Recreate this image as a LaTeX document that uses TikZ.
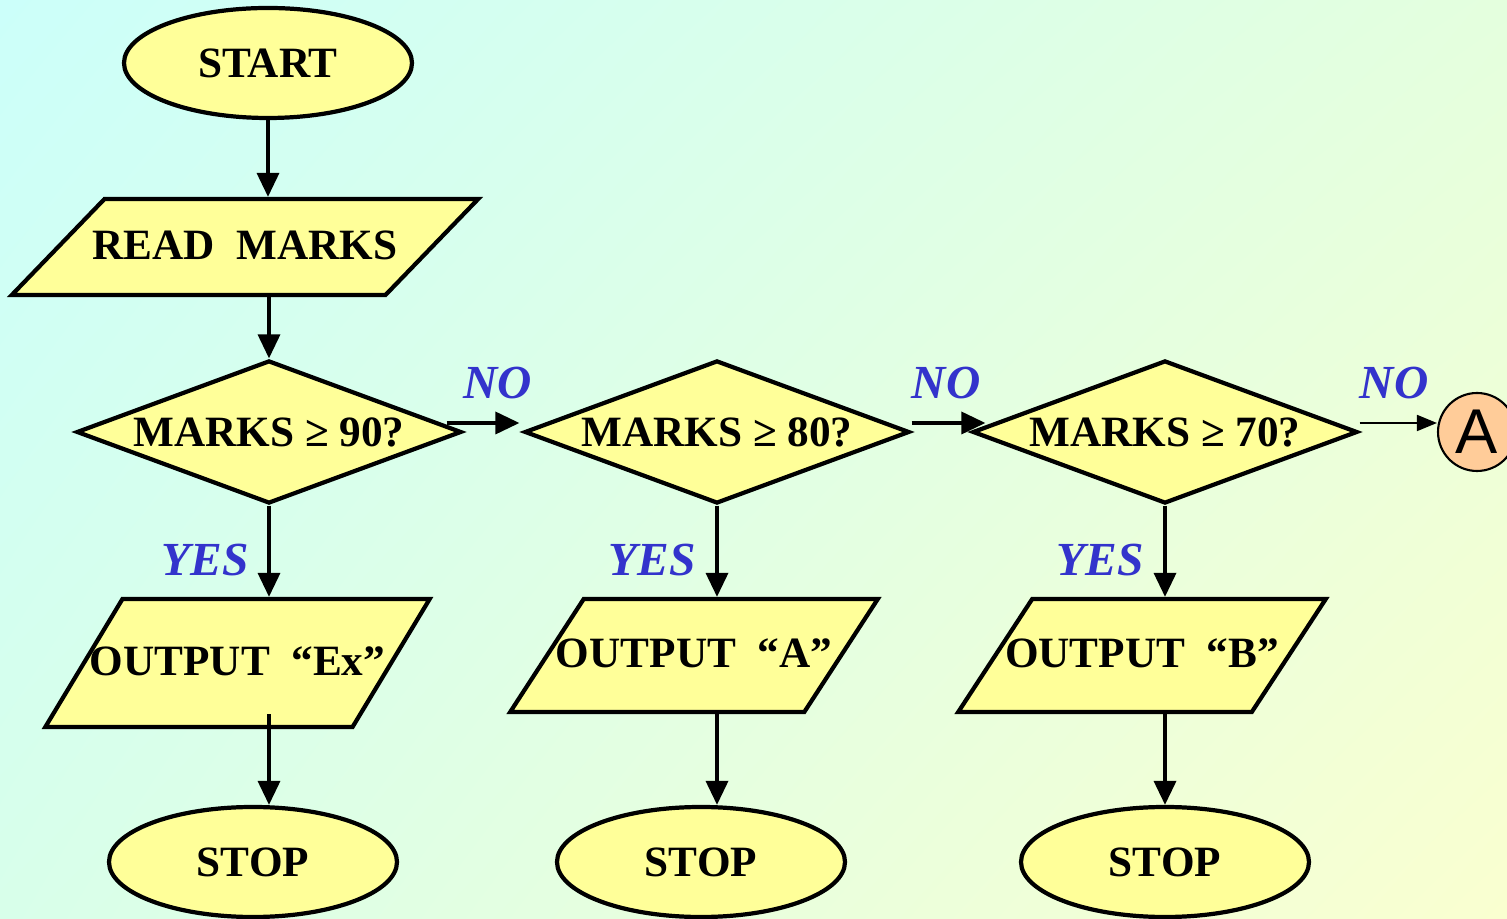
\documentclass[tikz,border=0pt]{standalone}
\usepackage{fontspec}
\setmainfont{Liberation Serif}
\newfontfamily\arialfont{Liberation Sans}
\usetikzlibrary{shapes.geometric, arrows.meta, calc, positioning, shadings}

\definecolor{boxfill}{RGB}{255,255,153}
\definecolor{connfill}{RGB}{255,204,153}
\definecolor{lblblue}{RGB}{51,51,204}
\definecolor{bgul}{RGB}{204,255,250}
\definecolor{bgur}{RGB}{228,255,222}
\definecolor{bgll}{RGB}{216,255,234}
\definecolor{bglr}{RGB}{250,255,208}

\tikzset{
  boxtext/.style={font=\fontsize{12.3}{14}\selectfont\bfseries},
  term/.style={ellipse, draw, line width=1.2pt, fill=boxfill, inner sep=0pt, minimum width=2.88cm, minimum height=1.1cm, boxtext},
  io/.style={trapezium, trapezium stretches=true, draw, line width=1.2pt, fill=boxfill, text height=0.3cm, text depth=0.05cm, boxtext},
  decision/.style={diamond, aspect=2.7, draw, line width=1.2pt, fill=boxfill, inner sep=0pt, minimum width=3.85cm, minimum height=1.43cm, boxtext},
  arr/.style={-{Triangle[length=0.24cm,width=0.22cm]}, line width=1pt},
  thinarr/.style={-{Triangle[length=0.2cm,width=0.16cm]}, line width=0.5pt},
  lbl/.style={text=lblblue, font=\fontsize{13.5}{15}\selectfont\bfseries\itshape}
}

\begin{document}
\begin{tikzpicture}
    \shade[upper left=bgul, upper right=bgur, lower left=bgll, lower right=bglr] (0,0) rectangle (15.07,9.18);
    \useasboundingbox (0,0) rectangle (15.07,9.18);

    \node[term] (start) at (2.68, 8.55) {START};
    \node[io, trapezium left angle=46, trapezium right angle=134, inner xsep=-0.12cm, inner ysep=0.305cm, minimum width=4.66cm] (read) at (2.45, 6.71) {READ\ \ MARKS};

    \node[decision] (d1) at (2.69, 4.86) {MARKS ≥ 90?};
    \node[decision] (d2) at (7.17, 4.86) {MARKS ≥ 80?};
    \node[decision] (d3) at (11.65, 4.86) {MARKS ≥ 70?};
    \node[circle, draw, fill=connfill, line width=0.6pt, minimum size=0.78cm, inner sep=0pt, font=\arialfont\fontsize{18}{20}\selectfont] (conA) at (14.77, 4.86) {A};

    \node[io, trapezium left angle=59, trapezium right angle=121, inner xsep=-0.33cm, inner ysep=0.465cm, minimum width=3.85cm] (out1) at (2.375, 2.55) {OUTPUT\ \ “Ex”};
    \node[io, trapezium left angle=57, trapezium right angle=123, inner xsep=-0.28cm, inner ysep=0.39cm, minimum width=3.68cm] (out2) at (6.94, 2.625) {OUTPUT\ \ “A”};
    \node[io, trapezium left angle=57, trapezium right angle=123, inner xsep=-0.28cm, inner ysep=0.39cm, minimum width=3.68cm] (out3) at (11.42, 2.625) {OUTPUT\ \ “B”};

    \node[term] (stop1) at (2.53, 0.56) {STOP};
    \node[term] (stop2) at (7.01, 0.56) {STOP};
    \node[term] (stop3) at (11.65, 0.56) {STOP};

    % labels
    \node[lbl] (no1) at (4.98, 5.35) {NO};
    \node[lbl] (no2) at (9.46, 5.35) {NO};
    \node[lbl] (no3) at (13.94, 5.35) {NO};
    \node[lbl] (yes1) at (2.05, 3.58) {YES};
    \node[lbl] (yes2) at (6.52, 3.58) {YES};
    \node[lbl] (yes3) at (11.00, 3.58) {YES};

    % flow
    \draw[arr] (start.south) -- (start.south |- read.north);
    \draw[arr] (read.south -| d1.north) -- (d1.north);
    \draw[arr] ($(d1.east)+(-0.17,0.09)$) -- ($(d2.west)+(-0.03,0.09)$);
    \draw[arr] ($(d2.east)+(0,0.09)$) -- ($(d3.west)+(0.15,0.09)$);
    \draw[thinarr] ($(d3.east)+(0,0.09)$) -- ($(conA.west)+(0,0.09)$);

    \draw[arr] (d1.south) -- (d1.south |- out1.north);
    \draw[arr] (d2.south) -- (d2.south |- out2.north);
    \draw[arr] (d3.south) -- (d3.south |- out3.north);

    \draw[arr] ($(d1.south |- out1.south)+(0,0.15)$) -- (d1.south |- stop1.north);
    \draw[arr] (d2.south |- out2.south) -- (d2.south |- stop2.north);
    \draw[arr] (d3.south |- out3.south) -- (d3.south |- stop3.north);
\end{tikzpicture}
\end{document}
